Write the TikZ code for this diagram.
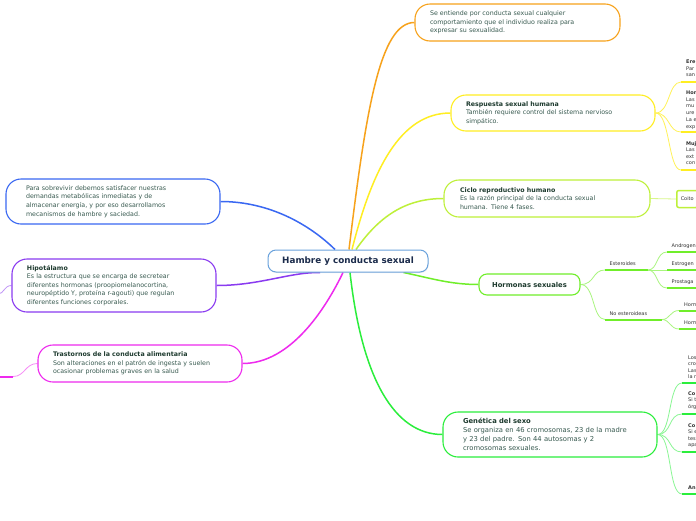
\documentclass[tikz,border=0pt]{standalone}
\usepackage{fontspec}
\setmainfont{DejaVu Sans}
\usetikzlibrary{backgrounds,shadows}
\definecolor{orangeC}{HTML}{F7A21B}
\definecolor{yellowC}{HTML}{FFEE22}
\definecolor{ygC}{HTML}{BEF03A}
\definecolor{hgC}{HTML}{70EE2A}
\definecolor{ggC}{HTML}{2BEE3C}
\definecolor{blueC}{HTML}{3A68F2}
\definecolor{purC}{HTML}{8A3BF0}
\definecolor{magC}{HTML}{EE2AEE}
\definecolor{centerC}{HTML}{6AA2DC}
\definecolor{bodyC}{HTML}{385A50}
\definecolor{titleC}{HTML}{1D3A2E}
\definecolor{navyC}{HTML}{1B2B4B}
\definecolor{subC}{HTML}{333333}
\newcommand\mmtitle[1]{{\color{titleC}\bfseries #1}}
\begin{document}
\begin{tikzpicture}[x=1pt,y=-1pt,
  box/.style={draw, line width=1.1pt, fill=white, rounded corners=15pt, align=left,
    inner ysep=0pt, text=bodyC, font=\fontsize{6.3}{8.6}\selectfont},
  sub/.style={inner sep=0pt, anchor=north west, align=left, text=subC,
    font=\fontsize{5}{6.4}\selectfont},
  lbl/.style={inner sep=0pt, anchor=west, text=subC, font=\fontsize{5}{6.4}\selectfont},
  conn/.style={line width=1.5pt},
  subline/.style={line width=0.8pt},
  uline/.style={line width=2pt}
]
\useasboundingbox (0,0) rectangle (696,520);

% central node
\node (c) [draw=centerC, line width=1pt, fill=white, rounded corners=8pt, minimum width=160pt,
  minimum height=22pt, inner sep=0pt, text=navyC, font=\fontsize{8.8}{10}\selectfont\bfseries,
  drop shadow={opacity=0.12, shadow xshift=0.6pt, shadow yshift=-1pt}] at (348,261) {Hambre y conducta sexual};

% main topics
\node (top) [box, draw=orangeC, minimum height=37pt, text width=175pt, inner xsep=15pt] at (517.5,22.5)
  {Se entiende por conducta sexual cualquier\\comportamiento que el individuo realiza para\\expresar su sexualidad.};
\node (resp) [box, draw=yellowC, minimum height=36pt, text width=174pt, inner xsep=15pt] at (553,113)
  {\mmtitle{Respuesta sexual humana}\\También requiere control del sistema nervioso\\simpático.};
\node (ciclo) [box, draw=ygC, minimum height=37pt, text width=174pt, inner xsep=16pt] at (547,198.5)
  {\mmtitle{Ciclo reproductivo humano}\\Es la razón principal de la conducta sexual\\humana. Tiene 4 fases.};
\node (horm) [draw=hgC, line width=1.1pt, fill=white, rounded corners=8pt, minimum width=101pt,
  minimum height=21pt, inner sep=0pt, text=titleC, font=\fontsize{6.8}{8}\selectfont\bfseries] at (529.5,284.5)
  {Hormonas sexuales};
\node (gen) [box, draw=ggC, minimum height=45pt, text width=174pt, inner xsep=20pt,
  font=\fontsize{6.8}{9}\selectfont] at (550,434.5)
  {\mmtitle{Genética del sexo}\\Se organiza en 46 cromosomas, 23 de la madre\\y 23 del padre. Son 44 autosomas y 2\\cromosomas sexuales.};
\node (para) [box, draw=blueC, minimum height=45pt, text width=174pt, inner xsep=20pt] at (113,201.5)
  {Para sobrevivir debemos satisfacer nuestras\\demandas metabólicas inmediatas y de\\almacenar energía, y por eso desarrollamos\\mecanismos de hambre y saciedad.};
\node (hipo) [box, draw=purC, minimum height=53pt, text width=174pt, inner xsep=15pt] at (114,285.5)
  {\mmtitle{Hipotálamo}\\Es la estructura que se encarga de secretear\\diferentes hormonas (proopiomelanocortina,\\neuropéptido Y, proteína r-agouti) que regulan\\diferentes funciones corporales.};
\node (tras) [box, draw=magC, minimum height=37pt, text width=174pt, inner xsep=15pt] at (140,363.5)
  {\mmtitle{Trastornos de la conducta alimentaria}\\Son alteraciones en el patrón de ingesta y suelen\\ocasionar problemas graves en la salud};

% right-edge sub topics: Respuesta
\node (ere) [sub] at (686,60) {\textbf{Ere}\\Par\\san};
\node (hom) [sub] at (686,91) {\textbf{Hom}\\Las\\mu\\ure\\[1.5pt]La e\\exp};
\node (muj) [sub] at (686,141.5) {\textbf{Muj}\\Las\\ext\\con};
\coordinate (ereU) at (681,82);
\coordinate (homU) at (681,132);
\coordinate (mujU) at (681,170);

% Ciclo
\node (coito) [draw=ygC, line width=1.5pt, rounded corners=2pt, anchor=west, minimum height=17pt,
  inner xsep=4pt, inner ysep=0pt, text=subC, font=\fontsize{5}{6}\selectfont, fill=white] at (676,199) {Coito};

% Hormonas
\node (est) [lbl] at (609.5,264) {Esteroides};
\node (noest) [lbl] at (609.5,313.5) {No esteroideas};
\coordinate (estL) at (605,270);
\coordinate (estR) at (648,270);
\coordinate (noestL) at (605,319.5);
\coordinate (noestR) at (662,319.5);
\node (andro) [lbl] at (671.5,246) {Androgen};
\node (estro) [lbl] at (671.5,264) {Estrogen};
\node (prost) [lbl] at (671.5,282) {Prostaga};
\coordinate (androU) at (667,252);
\coordinate (estroU) at (667,270);
\coordinate (prostU) at (667,288);
\node (hm1) [lbl] at (684,305) {Horm};
\node (hm2) [lbl] at (684,323) {Horm};
\coordinate (hm1U) at (679,310.5);
\coordinate (hm2U) at (679,329);

% Genetica
\node (g1) [sub] at (688,355.5) {Los\\cro\\Las\\la r};
\node (g2) [sub] at (688,391.5) {\textbf{Co}\\Si t\\órg};
\node (g3) [sub] at (688,423.5) {\textbf{Co}\\Si e\\tes\\apa};
\node (g4) [sub] at (688,485.5) {\textbf{An}};
\coordinate (g1U) at (682,383);
\coordinate (g2U) at (682,414);
\coordinate (g3U) at (682,452);
\coordinate (g4U) at (682,494);

% left edge
\coordinate (trasL) at (13,376.5);
\coordinate (trasE) at (-4,376.5);
\coordinate (hipoL) at (-2,294);

\begin{pgfonlayer}{background}
\fill[white] (0,0) rectangle (696,520);
% main connectors
\draw[conn, orangeC] ([xshift=1pt]c.north) .. controls (366,110) and (380,22.5) .. (top.west);
\draw[conn, yellowC] ([xshift=4pt]c.north) .. controls (372,170) and (400,113) .. (resp.west);
\draw[conn, ygC] ([xshift=8pt]c.north) .. controls (382,212) and (410,198.5) .. (ciclo.west);
\draw[conn, hgC] ([xshift=-25pt]c.south east) .. controls (430,278) and (450,284.5) .. (horm.west);
\draw[conn, ggC] ([xshift=2pt]c.south) .. controls (362,380) and (395,434.5) .. (gen.west);
\draw[conn, blueC] ([xshift=-13pt]c.north) .. controls (310,225) and (270,201.5) .. (para.east);
\draw[conn, purC] ([xshift=-28pt]c.south) .. controls (290,272) and (260,285.5) .. (hipo.east);
\draw[conn, magC] ([xshift=-5pt]c.south) .. controls (325,310) and (290,363.5) .. (tras.east);

% Respuesta children
\draw[subline, yellowC!75] (resp.east) .. controls (670,113) and (668,82) .. (ereU);
\draw[subline, yellowC!75] (resp.east) .. controls (670,113) and (668,132) .. (homU);
\draw[subline, yellowC!75] (resp.east) .. controls (670,113) and (668,170) .. (mujU);
\draw[uline, yellowC] (ereU) -- ++(20,0);
\draw[uline, yellowC] (homU) -- ++(20,0);
\draw[uline, yellowC] (mujU) -- ++(20,0);

% Ciclo child
\draw[subline, ygC!60] (ciclo.east) -- (coito.west);

% Hormonas children
\draw[subline, hgC!60] (horm.east) .. controls (595,284.5) and (592,270) .. (estL);
\draw[subline, hgC!60] (horm.east) .. controls (595,284.5) and (592,319.5) .. (noestL);
\draw[uline, hgC] (estL) -- (estR);
\draw[uline, hgC] (noestL) -- (noestR);
\draw[subline, hgC!60] (estR) .. controls (658,270) and (656,252) .. (androU);
\draw[subline, hgC!60] (estR) -- (estroU);
\draw[subline, hgC!60] (estR) .. controls (658,270) and (656,288) .. (prostU);
\draw[subline, hgC!60] (noestR) .. controls (670,319.5) and (670,310.5) .. (hm1U);
\draw[subline, hgC!60] (noestR) .. controls (670,319.5) and (670,329) .. (hm2U);
\draw[uline, hgC] (androU) -- ++(35,0);
\draw[uline, hgC] (estroU) -- ++(35,0);
\draw[uline, hgC] (prostU) -- ++(35,0);
\draw[uline, hgC] (hm1U) -- ++(25,0);
\draw[uline, hgC] (hm2U) -- ++(25,0);

% Genetica children
\draw[subline, ggC!55] (gen.east) .. controls (672,434.5) and (668,383) .. (g1U);
\draw[subline, ggC!55] (gen.east) .. controls (672,434.5) and (668,414) .. (g2U);
\draw[subline, ggC!55] (gen.east) .. controls (672,434.5) and (668,452) .. (g3U);
\draw[subline, ggC!55] (gen.east) .. controls (672,434.5) and (668,494) .. (g4U);
\draw[uline, ggC] (g1U) -- ++(20,0);
\draw[uline, ggC] (g2U) -- ++(20,0);
\draw[uline, ggC] (g3U) -- ++(20,0);
\draw[uline, ggC] (g4U) -- ++(20,0);

% left edge
\draw[subline, magC!55] (tras.west) .. controls (25,363.5) and (25,376.5) .. (trasL);
\draw[uline, magC] (trasL) -- (trasE);
\draw[subline, purC!55] (hipo.west) .. controls (4,285.5) and (4,294) .. (hipoL);
\end{pgfonlayer}
\end{tikzpicture}
\end{document}
